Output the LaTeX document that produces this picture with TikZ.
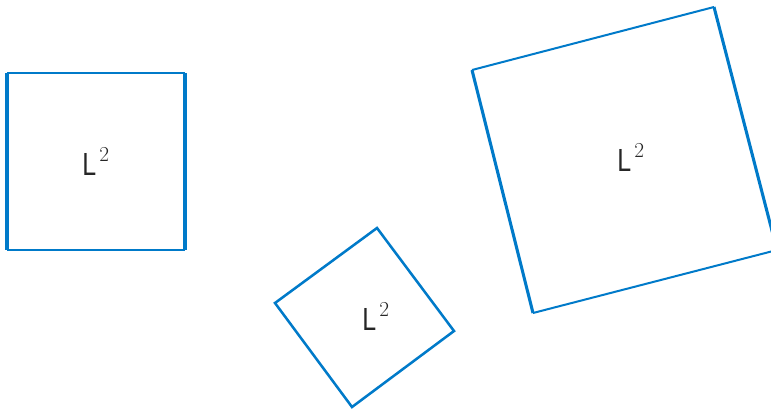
\documentclass[tikz,border=0pt]{standalone}
\usepackage{fontspec}
\usepackage{tikz}
\usetikzlibrary{positioning}
\newfontfamily\labelfont{Liberation Sans}
\definecolor{SideBlue}{RGB}{0, 122, 201}
\newcommand{\areaLabel}{\scalebox{0.78}[1]{\fontsize{24}{24}\labelfont L}\kern2.4pt\raisebox{10.5pt}{\fontsize{16}{16}\selectfont 2}}

\begin{document}
\begin{tikzpicture}[x=0.75pt, y=-0.75pt,
    thin side/.style={SideBlue, line width=1.5pt, line cap=square},
    thick side/.style={SideBlue, line width=2.6pt, line cap=square},
    mid side/.style={SideBlue, line width=1.9pt, line join=miter},
    area/.style={inner sep=0pt, anchor=base west, text=black!85}]
    \clip (0,0) rectangle (771,408);
    % upright square
    \draw[thin side] (7,73) -- (185,73);
    \draw[thin side] (7,250) -- (185,250);
    \draw[thick side] (7,73) -- (7,250);
    \draw[thick side] (185,73) -- (185,250);
    \node[area] (lblA) at (82,175) {\areaLabel};
    % small tilted square
    \draw[mid side] (377,228) -- (454,331) -- (352,407) -- (275,303) -- cycle;
    \node[area] (lblB) at (362,330) {\areaLabel};
    % large tilted square
    \draw[thin side] (472,70) -- (714,7);
    \draw[thin side] (533,313) -- (777,250);
    \draw[thick side, line width=2.3pt] (472,70) -- (533,313);
    \draw[thick side, line width=2.3pt] (714,7) -- (777,250);
    \node[area] (lblC) at (617,171) {\areaLabel};
\end{tikzpicture}
\end{document}
